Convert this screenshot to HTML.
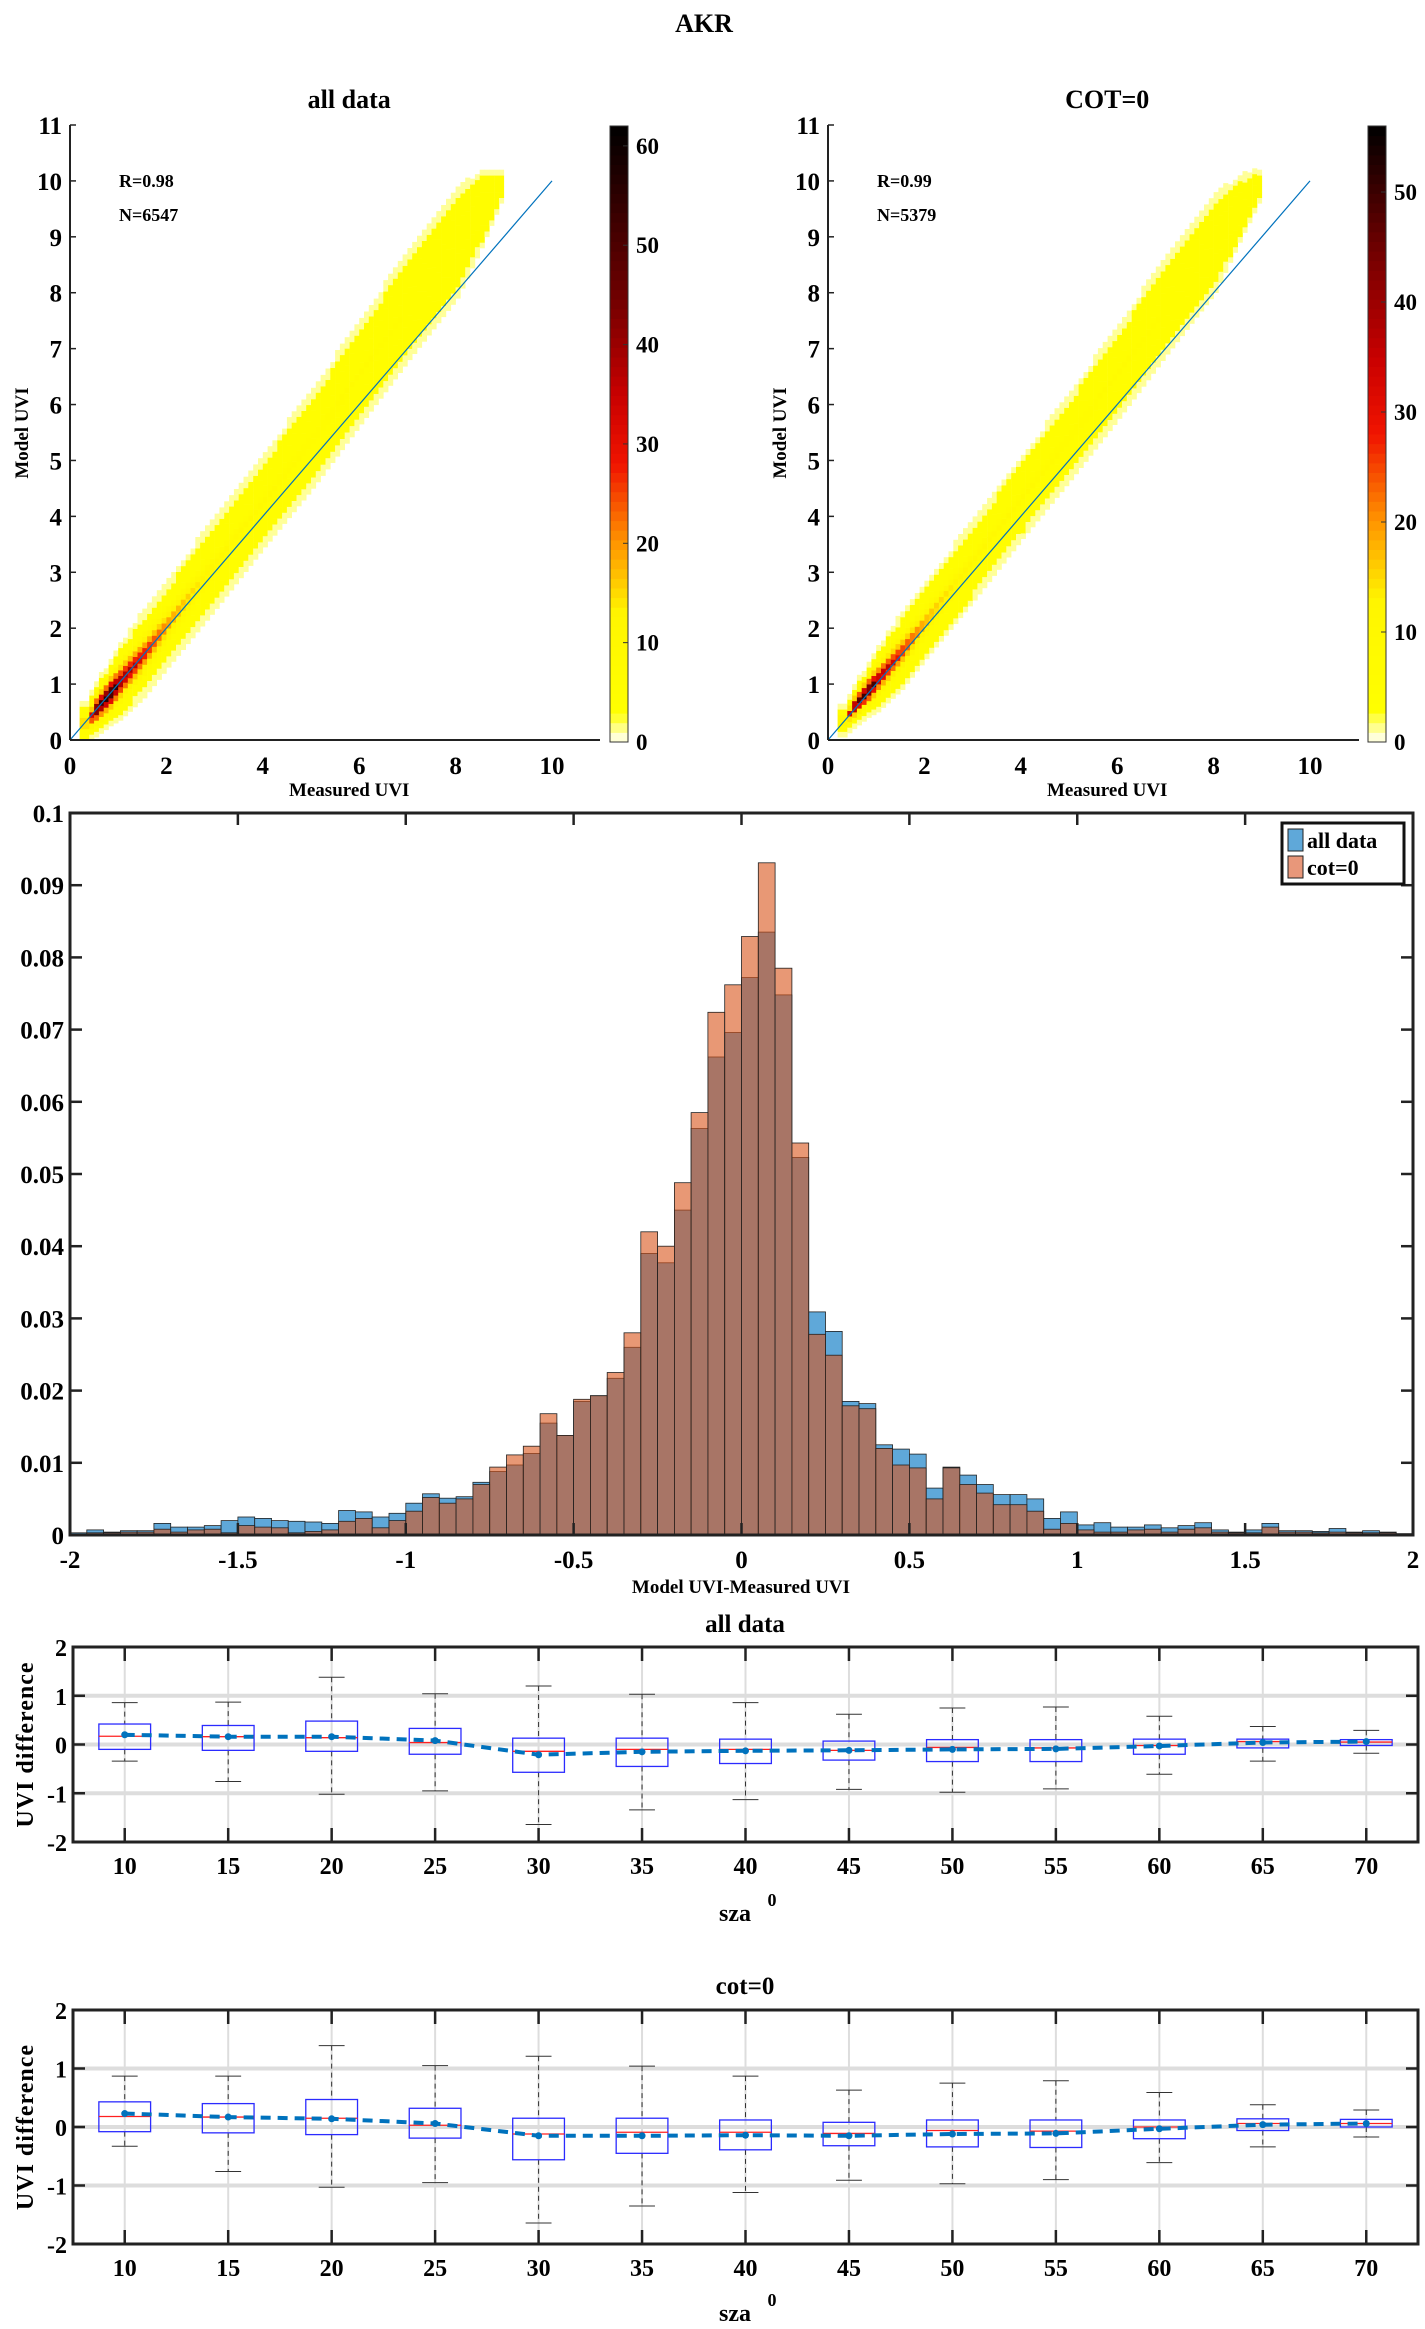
<!DOCTYPE html>
<html><head><meta charset="utf-8"><style>
body{margin:0;background:#fff}
svg{display:block;font-family:"Liberation Serif",serif;font-weight:bold}
</style></head><body>
<svg id="fig" width="1425" height="2329" viewBox="0 0 1425 2329" xmlns="http://www.w3.org/2000/svg">
<text x="704" y="32" font-size="26" text-anchor="middle">AKR</text>
<g id="heatL"></g>
<g id="heatR"></g>
<g id="hist"></g>
<g id="box1"></g>
<g id="box2"></g>
</svg>
<script>
// ---------- heatmap data (knots) ----------
const hmKnotX = [0.3, 0.5, 0.8, 1.0, 1.5, 2.0, 3.0, 4.0, 5.0, 6.0, 7.0, 8.0, 8.5, 8.9];
const hmCenterL = [0.3, 0.55, 0.85, 1.05, 1.55, 2.1, 3.2, 4.3, 5.4, 6.6, 7.8, 8.9, 9.5, 9.9];
const hmHalfL = [0.4, 0.5, 0.6, 0.7, 0.8, 0.8, 0.85, 0.85, 0.9, 0.95, 1.0, 1.0, 0.7, 0.3];
const hmPeakL = [20, 55, 62, 45, 32, 22, 10, 8, 7, 7, 6, 5, 3, 2];
const hmCenterR = [0.35, 0.6, 0.9, 1.1, 1.6, 2.15, 3.25, 4.35, 5.45, 6.6, 7.8, 8.9, 9.5, 9.9];
const hmHalfR = [0.3, 0.4, 0.5, 0.6, 0.7, 0.7, 0.75, 0.75, 0.8, 0.85, 0.9, 0.9, 0.6, 0.3];
const hmPeakR = [15, 50, 56, 42, 30, 20, 10, 8, 7, 7, 6, 5, 3, 2];
const hmStats = [["R=0.98","N=6547"],["R=0.99","N=5379"]];
const cbTicksL = [0,10,20,30,40,50,60];
const cbTicksR = [0,10,20,30,40,50];

// ---------- histogram data ----------
const histEdges0 = -2, histBinW = 0.05;
const histAll = [0.0003,0.0007,0.0004,0.0006,0.0006,0.0016,0.0011,0.0011,0.0013,0.002,0.0025,0.0023,0.002,0.0019,0.0018,0.0016,0.0034,0.0032,0.0025,0.003,0.0044,0.0057,0.0051,0.0053,0.0073,0.0088,0.0097,0.0113,0.0155,0.0138,0.0185,0.0193,0.0217,0.026,0.039,0.0377,0.045,0.0563,0.0662,0.0696,
0.0772,0.0835,0.0748,0.0523,0.0309,0.0282,0.0185,0.0182,0.0125,0.0119,0.0112,0.0065,0.0094,0.0083,0.007,0.0056,0.0056,0.005,0.0023,0.0032,0.0014,0.0017,0.0011,0.0011,0.0014,0.001,0.0013,0.0017,0.0007,0.0004,0.0007,0.0016,0.0006,0.0006,0.0005,0.0009,0.0004,0.0006,0.0004,0.0002];
const histCot = [0.0001,0.0003,0.0003,0.0004,0.0004,0.0008,0.0004,0.0007,0.0008,0.0003,0.0013,0.0011,0.001,0.0003,0.0005,0.0007,0.0019,0.0023,0.001,0.002,0.0033,0.0052,0.0044,0.005,0.007,0.0094,0.0111,0.0123,0.0168,0.0138,0.0188,0.0193,0.0225,0.028,0.042,0.040,0.0488,0.0585,0.0724,0.0762,
0.0829,0.0931,0.0785,0.0543,0.0278,0.0249,0.0179,0.0175,0.012,0.0097,0.0093,0.005,0.0093,0.007,0.0058,0.0042,0.0042,0.0033,0.0008,0.0016,0.0007,0.0004,0.0004,0.0007,0.0008,0.0004,0.0008,0.001,0.0004,0.0003,0.0003,0.0011,0.0004,0.0004,0.0003,0.0004,0.0003,0.0003,0.0003,0.0001];
const histXTicks = [-2,-1.5,-1,-0.5,0,0.5,1,1.5,2];
const histXLabels = ["-2","-1.5","-1","-0.5","0","0.5","1","1.5","2"];
const histYTicks = [0,0.01,0.02,0.03,0.04,0.05,0.06,0.07,0.08,0.09,0.1];
const histYLabels = ["0","0.01","0.02","0.03","0.04","0.05","0.06","0.07","0.08","0.09","0.1"];

// ---------- boxplot data ----------
const szaCats = [10,15,20,25,30,35,40,45,50,55,60,65,70];
const b1WhiskHi = [0.86,0.87,1.38,1.04,1.2,1.03,0.86,0.62,0.75,0.77,0.58,0.37,0.29];
const b1WhiskLo = [-0.34,-0.76,-1.02,-0.95,-1.64,-1.34,-1.13,-0.92,-0.98,-0.91,-0.61,-0.34,-0.18];
const b1Q3 = [0.42,0.39,0.48,0.33,0.13,0.13,0.11,0.07,0.1,0.1,0.11,0.11,0.1];
const b1Q1 = [-0.1,-0.12,-0.14,-0.2,-0.57,-0.45,-0.39,-0.32,-0.35,-0.35,-0.2,-0.07,-0.02];
const b1Med = [0.17,0.16,0.14,0.04,-0.14,-0.1,-0.1,-0.12,-0.06,-0.07,-0.02,0.06,0.05];
const b1Mean = [0.2,0.16,0.16,0.08,-0.21,-0.15,-0.13,-0.12,-0.1,-0.09,-0.03,0.04,0.06];
const b2WhiskHi = [0.87,0.87,1.39,1.05,1.21,1.04,0.87,0.63,0.75,0.79,0.59,0.38,0.29];
const b2WhiskLo = [-0.33,-0.76,-1.03,-0.95,-1.64,-1.35,-1.12,-0.91,-0.97,-0.9,-0.61,-0.34,-0.17];
const b2Q3 = [0.43,0.4,0.47,0.32,0.15,0.15,0.12,0.08,0.12,0.12,0.12,0.14,0.13];
const b2Q1 = [-0.08,-0.1,-0.13,-0.19,-0.56,-0.45,-0.39,-0.32,-0.34,-0.35,-0.2,-0.06,0];
const b2Med = [0.18,0.17,0.15,0.03,-0.12,-0.09,-0.09,-0.11,-0.06,-0.07,0,0.06,0.06];
const b2Mean = [0.23,0.17,0.14,0.06,-0.15,-0.15,-0.14,-0.15,-0.12,-0.11,-0.03,0.04,0.06];
const boxYTicks = [-2,-1,0,1,2];

const NS="http://www.w3.org/2000/svg";
function mk(parent,tag,attrs,name,text){
  const e=document.createElementNS(NS,tag);
  for(const k in attrs) e.setAttribute(k,attrs[k]);
  
  
  if(text!==undefined) e.textContent=text;
  parent.appendChild(e); return e;
}
function lerpK(xs,ys,x){
  if(x<=xs[0]) return ys[0];
  for(let i=1;i<xs.length;i++){ if(x<=xs[i]){const t=(x-xs[i-1])/(xs[i]-xs[i-1]);return ys[i-1]+t*(ys[i]-ys[i-1]);} }
  return ys[ys.length-1];
}
function cmap(v,max){
  const stops=[[0,[255,255,255]],[1,[255,255,170]],[3,[255,255,0]],[13,[255,245,0]],[20,[255,150,0]],[28,[240,20,0]],[35,[200,0,0]],[45,[110,0,0]],[max,[0,0,0]]];
  for(let i=1;i<stops.length;i++){ if(v<=stops[i][0]){const a=stops[i-1],b=stops[i];const t=(v-a[0])/(b[0]-a[0]);
    return 'rgb('+a[1].map((c,j)=>Math.round(c+t*(b[1][j]-c))).join(',')+')';}}
  return 'rgb(0,0,0)';
}

function heatmap(g,x0,xr,cbx,title,stats,centers,halves,peaks,cbMax,cbTicks){
  const y0=740,ytop=125,ux=48.2,uy=(y0-ytop)/11;
  const X=v=>x0+v*ux, Y=v=>y0-v*uy;
  mk(g,'text',{x:X(6.0)-10,y:108,'font-size':26,'text-anchor':'middle'},'panel-title',title);
  const cg=mk(g,'g',{},'heatmap-cells');
  for(let cx=0.2;cx<8.9;cx+=0.1){
    const c=lerpK(hmKnotX,centers,cx), h=lerpK(hmKnotX,halves,cx), p=lerpK(hmKnotX,peaks,cx);
    for(let cy=Math.max(0,c-h);cy<c+h;cy+=0.1){
      const d=Math.abs(cy+0.05-c)/h; if(d>1) continue;
      const v=d>0.8?1.2:Math.max(5,p*Math.pow(1-d,2.5));
      mk(cg,'rect',{x:X(cx).toFixed(1),y:Y(cy+0.1).toFixed(1),width:(0.1*ux+0.3).toFixed(1),height:(0.1*uy+0.3).toFixed(1),fill:cmap(v,cbMax)},'heatmap-cell');
    }
  }
  mk(g,'line',{x1:X(0),y1:Y(0),x2:X(10),y2:Y(10),stroke:'#0072bd','stroke-width':1.2},'one-to-one-line');
  mk(g,'line',{x1:x0,y1:ytop,x2:x0,y2:y0,stroke:'#222','stroke-width':2},'y-axis');
  mk(g,'line',{x1:x0,y1:y0,x2:xr,y2:y0,stroke:'#222','stroke-width':2},'x-axis');
  for(let i=0;i<=11;i++){
    mk(g,'line',{x1:x0,y1:Y(i),x2:x0+6,y2:Y(i),stroke:'#222','stroke-width':1.5},'y-tick');
    mk(g,'text',{x:x0-8,y:Y(i)+9,'font-size':25,'text-anchor':'end'},'y-tick-label',String(i));
  }
  for(let i=0;i<=10;i+=2){
    mk(g,'text',{x:X(i),y:774,'font-size':25,'text-anchor':'middle'},'x-tick-label',String(i));
  }
  mk(g,'text',{x:X(6)-10,y:796,'font-size':19,'text-anchor':'middle'},'x-axis-title','Measured UVI');
  mk(g,'text',{x:0,y:0,'font-size':19,'text-anchor':'middle',transform:`translate(${x0-42},433) rotate(-90)`},'y-axis-title','Model UVI');
  mk(g,'text',{x:x0+49,y:187,'font-size':18},'r-value',stats[0]);
  mk(g,'text',{x:x0+49,y:221,'font-size':18},'n-value',stats[1]);
  const cbT=126,cbB=742;
  const cbg=mk(g,'g',{},'colorbar');
  const n=64;
  for(let i=0;i<n;i++){
    const v=(i+0.5)/n*cbMax;
    mk(cbg,'rect',{x:cbx,y:(cbB-(i+1)*(cbB-cbT)/n).toFixed(1),width:18,height:((cbB-cbT)/n+0.5).toFixed(1),fill:cmap(v,cbMax)},'colorbar-band');
  }
  mk(cbg,'rect',{x:cbx,y:cbT,width:18,height:cbB-cbT,fill:'none',stroke:'#333','stroke-width':1},'colorbar-frame');
  cbTicks.forEach(t=>{
    const y=cbB-t/cbMax*(cbB-cbT);
    mk(cbg,'line',{x1:cbx+18,y1:y,x2:cbx+13,y2:y,stroke:'#333'},'colorbar-tick');
    mk(cbg,'text',{x:cbx+26,y:y+8,'font-size':23},'colorbar-label',String(t));
  });
}
heatmap(document.getElementById('heatL'),70,600,610,'all data',hmStats[0],hmCenterL,hmHalfL,hmPeakL,62,cbTicksL);
heatmap(document.getElementById('heatR'),828,1359,1368,'COT=0',hmStats[1],hmCenterR,hmHalfR,hmPeakR,56,cbTicksR);

// ---------- histogram ----------
(function(){
  const g=document.getElementById('hist');
  const L=70,R=1413,T=813,B=1535;
  const X=v=>L+(v+2)/4*(R-L), Y=v=>B-v/0.1*(B-T);
  const bg=mk(g,'g',{},'bars-all-data');
  histAll.forEach((v,i)=>{const x=histEdges0+i*histBinW;
    mk(bg,'rect',{x:X(x).toFixed(1),y:Y(v).toFixed(1),width:(X(x+histBinW)-X(x)).toFixed(1),height:(B-Y(v)).toFixed(1),fill:'#5fa8d9',stroke:'#222','stroke-width':0.8},'bar-all-data');});
  const og=mk(g,'g',{},'bars-cot0');
  histCot.forEach((v,i)=>{const x=histEdges0+i*histBinW;
    mk(og,'rect',{x:X(x).toFixed(1),y:Y(v).toFixed(1),width:(X(x+histBinW)-X(x)).toFixed(1),height:(B-Y(v)).toFixed(1),fill:'rgba(217,83,25,0.6)',stroke:'#222','stroke-width':0.8},'bar-cot0');});
  mk(g,'rect',{x:L,y:T,width:R-L,height:B-T,fill:'none',stroke:'#222','stroke-width':3},'axes-frame');
  histXTicks.forEach((t,i)=>{const x=X(t);
    mk(g,'line',{x1:x,y1:B,x2:x,y2:B-12,stroke:'#222','stroke-width':2.5},'x-tick');
    mk(g,'line',{x1:x,y1:T,x2:x,y2:T+12,stroke:'#222','stroke-width':2.5},'x-tick-top');
    mk(g,'text',{x:x,y:1568,'font-size':25,'text-anchor':'middle'},'x-tick-label',histXLabels[i]);});
  histYTicks.forEach((t,i)=>{const y=Y(t);
    mk(g,'line',{x1:L,y1:y,x2:L+12,y2:y,stroke:'#222','stroke-width':2.5},'y-tick');
    mk(g,'line',{x1:R,y1:y,x2:R-12,y2:y,stroke:'#222','stroke-width':2.5},'y-tick-right');
    mk(g,'text',{x:L-6,y:y+9,'font-size':25,'text-anchor':'end'},'y-tick-label',histYLabels[i]);});
  mk(g,'text',{x:741,y:1593,'font-size':19,'text-anchor':'middle'},'x-axis-title','Model UVI-Measured UVI');
  const lg=mk(g,'g',{},'legend');
  mk(lg,'rect',{x:1282,y:823,width:122,height:61,fill:'#fff',stroke:'#111','stroke-width':3},'legend-box');
  mk(lg,'rect',{x:1288,y:829,width:15,height:22,fill:'#5fa8d9',stroke:'#222'},'legend-swatch-all-data');
  mk(lg,'text',{x:1307,y:848,'font-size':22},'legend-label-all-data','all data');
  mk(lg,'rect',{x:1288,y:856,width:15,height:22,fill:'#e8977a',stroke:'#222'},'legend-swatch-cot0');
  mk(lg,'text',{x:1307,y:875,'font-size':22},'legend-label-cot0','cot=0');
})();

// ---------- boxplots ----------
function boxplot(g,T,B,title,titleY,tickY,szaY,hi,lo,q3,q1,med,mean){
  const L=73,R=1418;
  const X=v=>L+(v-7.5)/65*(R-L), Y=v=>B-(v+2)/4*(B-T);
  mk(g,'text',{x:745,y:titleY+9,'font-size':25,'text-anchor':'middle'},'panel-title',title);
  szaCats.forEach(c=>mk(g,'line',{x1:X(c),y1:T,x2:X(c),y2:B,stroke:'#ddd','stroke-width':2},'x-gridline'));
  [-1,0,1].forEach(v=>mk(g,'line',{x1:L,y1:Y(v),x2:R,y2:Y(v),stroke:'#ddd','stroke-width':4},'y-gridline'));
  szaCats.forEach((c,i)=>{
    const x=X(c),hw=1.25/65*(R-L),cw=hw*0.5;
    mk(g,'line',{x1:x,y1:Y(hi[i]),x2:x,y2:Y(q3[i]),stroke:'#333','stroke-dasharray':'5,4'},'whisker-upper');
    mk(g,'line',{x1:x,y1:Y(q1[i]),x2:x,y2:Y(lo[i]),stroke:'#333','stroke-dasharray':'5,4'},'whisker-lower');
    mk(g,'line',{x1:x-cw,y1:Y(hi[i]),x2:x+cw,y2:Y(hi[i]),stroke:'#333'},'whisker-cap');
    mk(g,'line',{x1:x-cw,y1:Y(lo[i]),x2:x+cw,y2:Y(lo[i]),stroke:'#333'},'whisker-cap');
    mk(g,'rect',{x:x-hw,y:Y(q3[i]),width:2*hw,height:Y(q1[i])-Y(q3[i]),fill:'none',stroke:'#2b2bff','stroke-width':1.3},'box-sza-'+c);
    mk(g,'line',{x1:x-hw,y1:Y(med[i]),x2:x+hw,y2:Y(med[i]),stroke:'#ff2020','stroke-width':1.3},'median-line');
  });
  const pts=szaCats.map((c,i)=>X(c).toFixed(1)+','+Y(mean[i]).toFixed(1)).join(' ');
  mk(g,'polyline',{points:pts,fill:'none',stroke:'#0072bd','stroke-width':4,'stroke-dasharray':'10,7'},'mean-line');
  szaCats.forEach((c,i)=>mk(g,'circle',{cx:X(c),cy:Y(mean[i]),r:3.5,fill:'#0072bd'},'mean-point'));
  mk(g,'rect',{x:L,y:T,width:R-L,height:B-T,fill:'none',stroke:'#222','stroke-width':3},'axes-frame');
  szaCats.forEach(c=>{
    mk(g,'line',{x1:X(c),y1:T,x2:X(c),y2:T+14,stroke:'#222','stroke-width':2.5},'x-tick-top');
    mk(g,'line',{x1:X(c),y1:B,x2:X(c),y2:B-14,stroke:'#222','stroke-width':2.5},'x-tick');
    mk(g,'text',{x:X(c),y:tickY+9,'font-size':24,'text-anchor':'middle'},'x-tick-label',String(c));
  });
  boxYTicks.forEach(v=>{
    mk(g,'line',{x1:L,y1:Y(v),x2:L+12,y2:Y(v),stroke:'#222','stroke-width':2.5},'y-tick');
    mk(g,'line',{x1:R,y1:Y(v),x2:R-12,y2:Y(v),stroke:'#222','stroke-width':2.5},'y-tick-right');
    mk(g,'text',{x:L-6,y:Y(v)+9,'font-size':24,'text-anchor':'end'},'y-tick-label',String(v));
  });
  mk(g,'text',{x:735,y:szaY+9,'font-size':24,'text-anchor':'middle'},'x-axis-title','sza');
  mk(g,'text',{x:772,y:szaY-6,'font-size':18,'text-anchor':'middle'},'x-axis-degree','0');
  mk(g,'text',{x:0,y:0,'font-size':24,'text-anchor':'middle','letter-spacing':1,transform:`translate(33,${(T+B)/2}) rotate(-90)`},'y-axis-title','UVI difference');
}
boxplot(document.getElementById('box1'),1647,1842,'all data',1623,1865,1912,b1WhiskHi,b1WhiskLo,b1Q3,b1Q1,b1Med,b1Mean);
boxplot(document.getElementById('box2'),2010,2244,'cot=0',1985,2267,2312,b2WhiskHi,b2WhiskLo,b2Q3,b2Q1,b2Med,b2Mean);
</script>
</body></html>
